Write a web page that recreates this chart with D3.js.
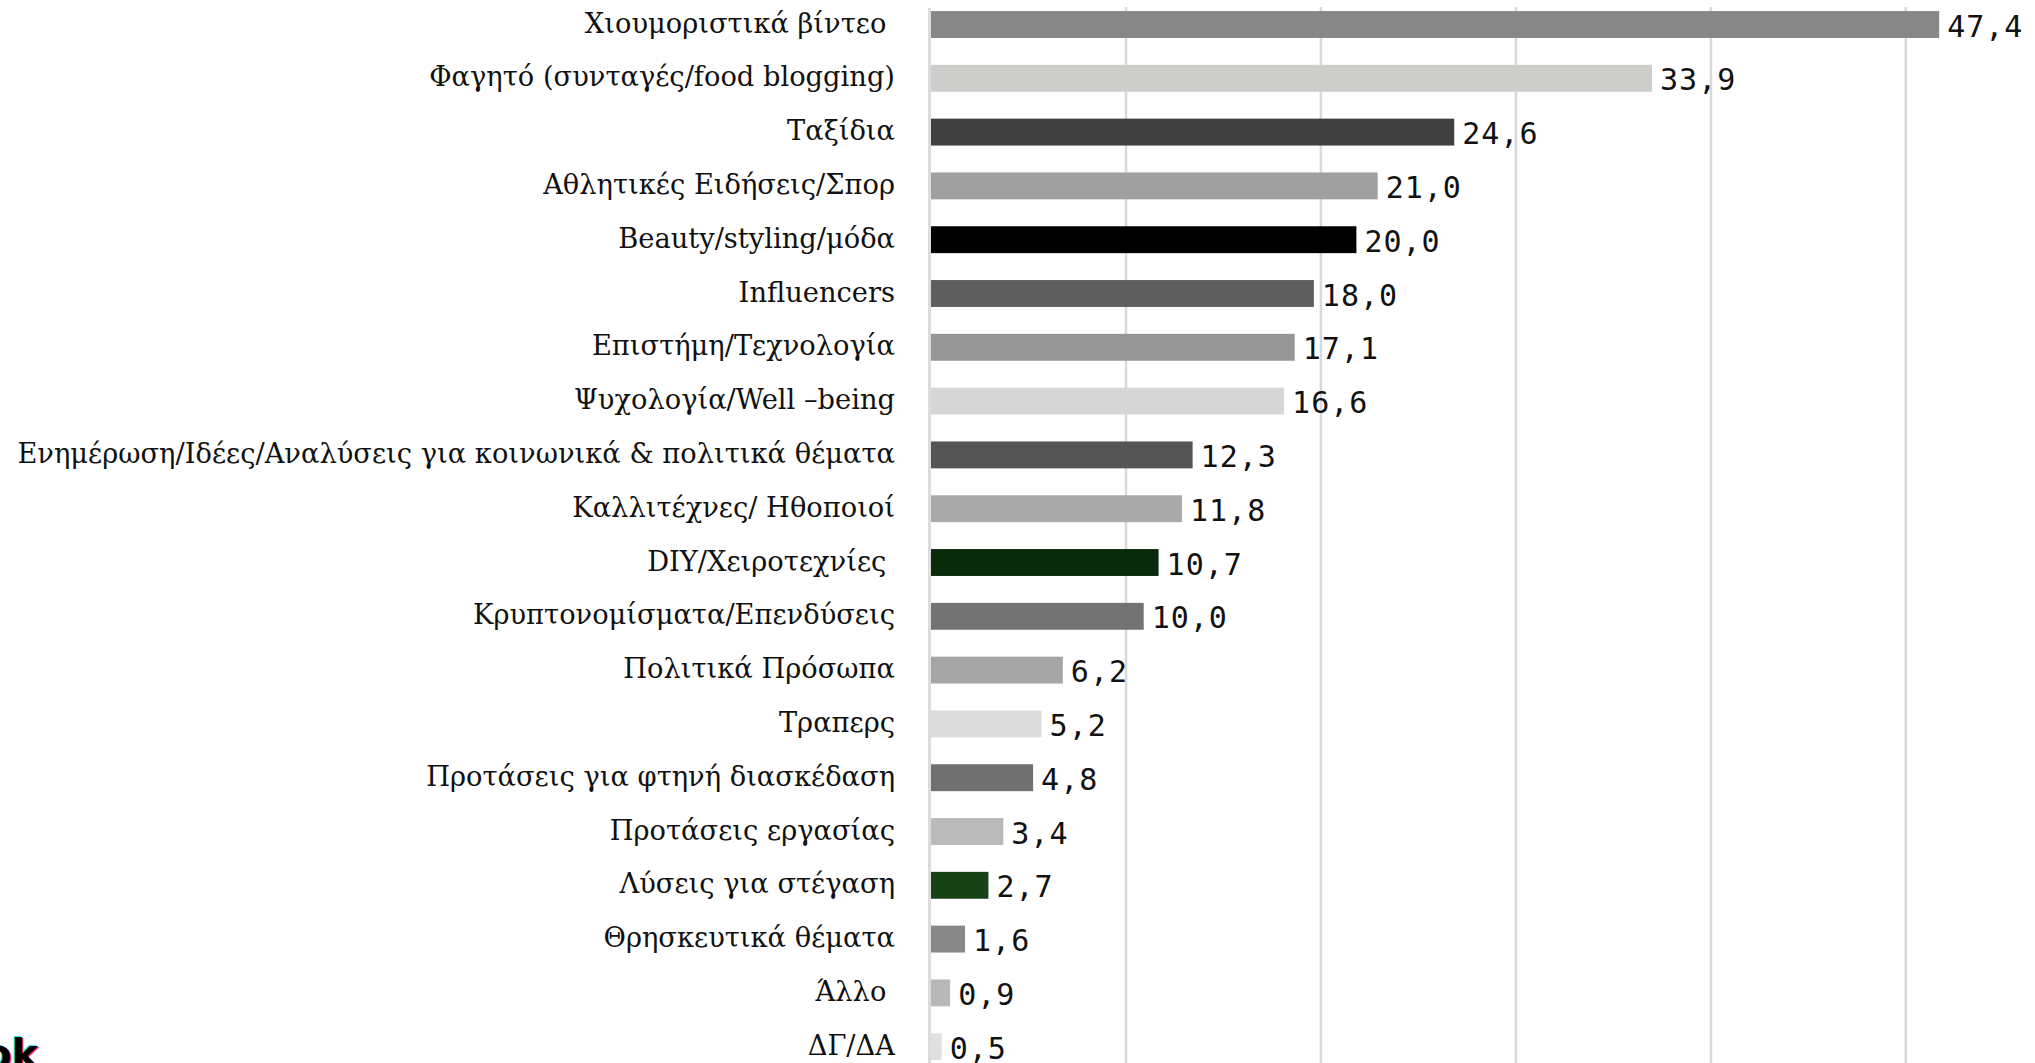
<!DOCTYPE html>
<html>
<head>
<meta charset="utf-8">
<script src="https://cdn.jsdelivr.net/npm/d3@7"></script>
<style>
  html, body { margin: 0; padding: 0; background: #ffffff; overflow: hidden; }
  svg { display: block; }
  .cat { font-family: "DejaVu Serif", serif; fill: #111; white-space: pre; }
  .val { font-family: "DejaVu Sans Mono", monospace; fill: #111; }
</style>
</head>
<body>
<svg id="chart" width="2035" height="1063"></svg>
<script>
const categories = [
  "Χιουμοριστικά βίντεο ",
  "Φαγητό (συνταγές/food blogging)",
  "Ταξίδια",
  "Αθλητικές Ειδήσεις/Σπορ",
  "Beauty/styling/μόδα",
  "Influencers",
  "Επιστήμη/Τεχνολογία",
  "Ψυχολογία/Well –being",
  "Ενημέρωση/Ιδέες/Αναλύσεις για κοινωνικά & πολιτικά θέματα",
  "Καλλιτέχνες/ Ηθοποιοί",
  "DIY/Χειροτεχνίες ",
  "Κρυπτονομίσματα/Επενδύσεις",
  "Πολιτικά Πρόσωπα",
  "Τραπερς",
  "Προτάσεις για φτηνή διασκέδαση",
  "Προτάσεις εργασίας",
  "Λύσεις για στέγαση",
  "Θρησκευτικά θέματα",
  "Άλλο ",
  "ΔΓ/ΔΑ"
];
const values = [47.4, 33.9, 24.6, 21.0, 20.0, 18.0, 17.1, 16.6, 12.3, 11.8, 10.7, 10.0, 6.2, 5.2, 4.8, 3.4, 2.7, 1.6, 0.9, 0.5];
const barColors = ["#878787", "#cdcdcb", "#404040", "#a0a0a0", "#000000", "#5e5e5e", "#969696", "#d6d6d6",
  "#555555", "#aaaaaa", "#0b2a0c", "#737373", "#a6a6a6", "#dcdcdc", "#707070", "#bababa",
  "#164216", "#888888", "#b8b8b8", "#e0e0e0"];
const gridTicks = [9.17, 18.33, 27.5, 36.67, 45.83];
const axisMax = 55;

const svg = d3.select("#chart");

const x = d3.scaleLinear().domain([0, axisMax]).range([931, 931 + 21.27 * axisMax]);
const y = d3.scaleBand().domain(categories).range([-2.4, 1073.6]).paddingInner(0.5).paddingOuter(0.25);

// gridlines
svg.append("g").selectAll("line").data(gridTicks).join("line")
  .attr("x1", d => x(d)).attr("x2", d => x(d))
  .attr("y1", 7).attr("y2", 1063)
  .attr("stroke", "#d9d9d9").attr("stroke-width", 2.5);

// bars
svg.append("g").selectAll("rect").data(values).join("rect")
  .attr("x", x(0))
  .attr("y", (d, i) => y(categories[i]))
  .attr("width", d => x(d) - x(0))
  .attr("height", y.bandwidth())
  .attr("fill", (d, i) => barColors[i]);

// axis line
svg.append("line")
  .attr("x1", x(0) - 1.5).attr("x2", x(0) - 1.5)
  .attr("y1", 8).attr("y2", 1063)
  .attr("stroke", "#dcdcdc").attr("stroke-width", 3);

// category labels
const catText = svg.append("g").selectAll("text").data(categories).join("text")
  .attr("class", "cat")
  .attr("x", 895)
  .attr("y", d => y(d) + y.bandwidth() / 2 + 8)
  .attr("text-anchor", "end")
  .attr("font-size", 30)
  .text(d => d);
// fit the longest label to the width it spans in the reference
let maxW = 0;
catText.each(function () { maxW = Math.max(maxW, this.getComputedTextLength()); });
const fs = 30 * 878 / maxW;
catText.attr("font-size", fs);

// value labels
const fmt = v => v.toFixed(1).replace(".", ",");
svg.append("g").selectAll("text").data(values).join("text")
  .attr("class", "val")
  .attr("x", d => x(d) + 8)
  .attr("y", (d, i) => y(categories[i]) + y.bandwidth() / 2 + 12)
  .attr("font-size", 30)
  .attr("letter-spacing", 1)
  .text(d => fmt(d));

// partial logo at bottom-left (cut off by the picture edge, as in the reference)
const logo = svg.append("g").attr("font-family", "DejaVu Sans, sans-serif").attr("font-weight", 900).attr("font-size", 40);
[["#25f4ee", -1.5, -1], ["#fe2c55", 1.5, 1], ["#000000", 0, 0]].forEach(([c, dx, dy]) => {
  logo.append("text").attr("x", -16 + dx).attr("y", 1068 + dy).attr("fill", c).text("ok");
});
</script>
</body>
</html>
